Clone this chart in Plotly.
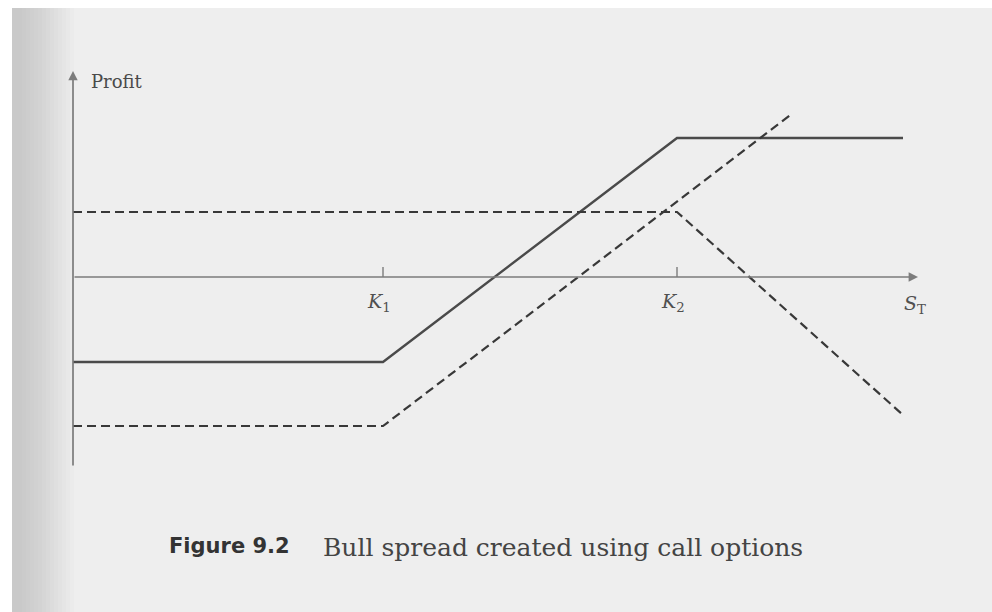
import plotly.graph_objects as go

# ---- data (stock price S_T and profit, in chart units) ----
K1 = 31.0
K2 = 60.4
bull_S = [0, K1, K2, 83]
bull_P = [-8.5, -8.5, 13.9, 13.9]
long_call_S = [0, K1, 72]
long_call_P = [-14.9, -14.9, 16.4]
short_call_S = [0, K2, 83]
short_call_P = [6.5, 6.5, -13.8]
tick_labels = ["<i>K</i><sub>1</sub>", "<i>K</i><sub>2</sub>"]
tick_pos = [K1, K2]

OFF = 8            # browser body margin (top / left)
W, H = 992 - OFF, 612 - OFF
X_RANGE = [-6.5, 91.9]
Y_RANGE = [-33.5, 26.9]

INK = "#383838"
AXIS = "#7c7c7c"
SERIF = "DejaVu Serif, Liberation Serif, serif"

fig = go.Figure()

fig.add_trace(go.Scatter(x=bull_S, y=bull_P, mode="lines",
                         line=dict(color="#4a4a4a", width=2.4), hoverinfo="skip"))
fig.add_trace(go.Scatter(x=long_call_S, y=long_call_P, mode="lines",
                         line=dict(color=INK, width=2.2, dash="9px,5px"), hoverinfo="skip"))
fig.add_trace(go.Scatter(x=short_call_S, y=short_call_P, mode="lines",
                         line=dict(color=INK, width=2.2, dash="9px,5px"), hoverinfo="skip"))

# tick marks at the strikes
for k in tick_pos:
    fig.add_shape(type="line", x0=k, x1=k, y0=0, y1=1.0,
                  line=dict(color=AXIS, width=1.4), layer="below")

# axes as arrows
fig.add_annotation(x=84.5, y=0, ax=0, ay=0, xref="x", yref="y", axref="x", ayref="y",
                   showarrow=True, arrowhead=2, arrowsize=1.1, arrowwidth=1.7,
                   arrowcolor=AXIS, text="")
fig.add_annotation(x=0, y=20.6, ax=0, ay=-19.0, xref="x", yref="y", axref="x", ayref="y",
                   showarrow=True, arrowhead=2, arrowsize=1.1, arrowwidth=1.7,
                   arrowcolor=AXIS, text="")

# labels
fig.add_annotation(x=1.6, y=19.6, xref="x", yref="y", text="Profit", showarrow=False,
                   xanchor="left", yanchor="middle",
                   font=dict(family=SERIF, size=18, color="#4a4a4a"))
for k, lab in zip(tick_pos, tick_labels):
    fig.add_annotation(x=k - 0.4, y=-2.5, xref="x", yref="y", text=lab, showarrow=False,
                       xanchor="center", yanchor="middle",
                       font=dict(family=SERIF, size=19, color="#505050"))
fig.add_annotation(x=84.2, y=-2.7, xref="x", yref="y", text="<i>S</i><sub>T</sub>",
                   showarrow=False, xanchor="center", yanchor="middle",
                   font=dict(family=SERIF, size=19, color="#505050"))

# caption (pixel coordinates of the reference page, shifted by the body margin)
cap_y = H - (546 - OFF)
fig.add_annotation(x=167 - OFF, y=cap_y, xref="x2", yref="y2",
                   text="<b>Figure 9.2</b>", showarrow=False, xanchor="left", yanchor="middle",
                   font=dict(family="DejaVu Sans, Liberation Sans, sans-serif", size=21,
                             color="#333"))
fig.add_annotation(x=321 - OFF, y=cap_y - 1, xref="x2", yref="y2",
                   text="Bull spread created using call options", showarrow=False,
                   xanchor="left", yanchor="middle",
                   font=dict(family=SERIF, size=25, color="#444"))

# paper shading (scan look): thin white edge, then a soft grey binding shadow
fig.add_shape(type="rect", xref="paper", yref="paper", x0=0, x1=4 / W, y0=0, y1=1,
              fillcolor="#ffffff", line=dict(width=0), layer="below")
for i in range(14):
    x1 = 4 + 10 + i * 4
    fig.add_shape(type="rect", xref="paper", yref="paper",
                  x0=4 / W, x1=x1 / W, y0=0, y1=1,
                  fillcolor="#707070", opacity=0.022, line=dict(width=0), layer="below")

fig.update_layout(
    width=W, height=H,
    margin=dict(l=0, r=0, t=0, b=0),
    paper_bgcolor="#eeeeee", plot_bgcolor="rgba(0,0,0,0)",
    showlegend=False,
    xaxis=dict(range=X_RANGE, visible=False, fixedrange=True),
    yaxis=dict(range=Y_RANGE, visible=False, fixedrange=True),
    xaxis2=dict(range=[0, W], visible=False, overlaying="x", fixedrange=True),
    yaxis2=dict(range=[0, H], visible=False, overlaying="y", fixedrange=True),
)
fig.add_trace(go.Scatter(x=[0], y=[0], xaxis="x2", yaxis="y2", mode="markers",
                         marker=dict(opacity=0), hoverinfo="skip"))

fig.write_html("out.html",
               post_script="document.body.style.margin='8px 0 0 8px';"
                           "document.body.style.background='#ffffff';")
